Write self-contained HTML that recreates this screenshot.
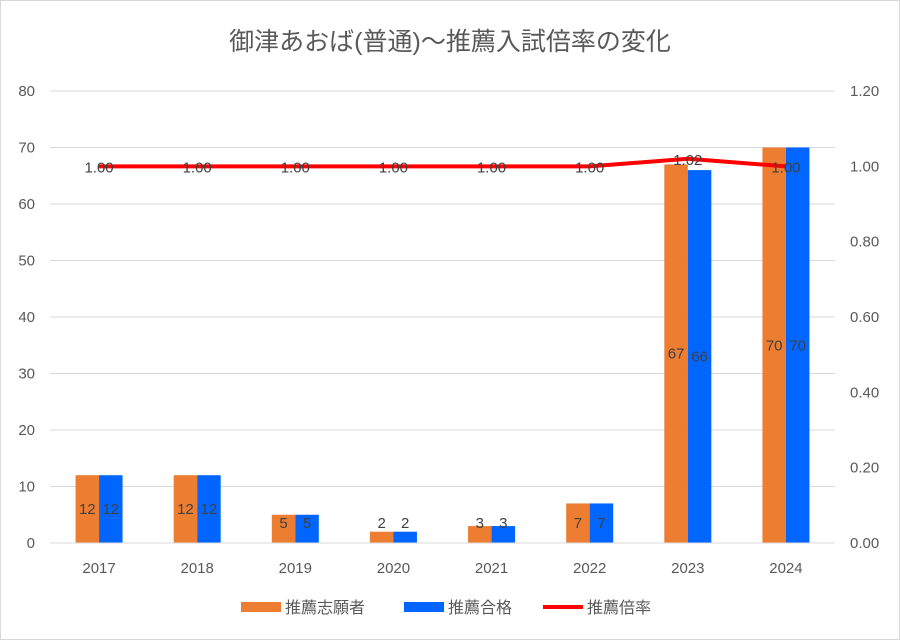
<!DOCTYPE html>
<html><head><meta charset="utf-8"><style>
body{margin:0;background:#fff}
svg{display:block;font-family:"Liberation Sans","Noto Sans CJK JP",sans-serif}
</style></head><body>
<svg id="c" width="900" height="640">
<rect x="0.5" y="0.5" width="899" height="639" fill="#fff" stroke="#d9d9d9"/>
<text x="450" y="50" text-anchor="middle" font-size="25" fill="#595959">御津あおば(普通)～推薦入試倍率の変化</text>
<g id="g"></g>
</svg>
<script>
const categories=["2017","2018","2019","2020","2021","2022","2023","2024"];
const applicants=[12,12,5,2,3,7,67,70];
const passed=[12,12,5,2,3,7,66,70];
const rates=[1.00,1.00,1.00,1.00,1.00,1.00,1.02,1.00];
const leftTicks=[0,10,20,30,40,50,60,70,80];
const rightTicks=["0.00","0.20","0.40","0.60","0.80","1.00","1.20"];
const NS="http://www.w3.org/2000/svg";
const g=document.getElementById('g');
const x0=50,x1=835,y0=543,y1=91;
const band=(x1-x0)/categories.length;
const yL=v=>y0-v/80*(y0-y1);
const yR=v=>y0-v/1.2*(y0-y1);
const cx=i=>x0+band*(i+0.5);
function mk(t,a,txt){const e=document.createElementNS(NS,t);for(const k in a)e.setAttribute(k,a[k]);if(txt!==undefined)e.textContent=txt;g.appendChild(e);return e;}
leftTicks.forEach(v=>{
 const l=mk('line',{x1:x0,x2:x1,y1:yL(v),y2:yL(v),stroke:'#d9d9d9'});
 
 
 const t=mk('text',{x:35,y:yL(v)+5,'text-anchor':'end','font-size':15,fill:'#595959'},v);
 
 
});
rightTicks.forEach(v=>{
 const t=mk('text',{x:850,y:yR(+v)+5,'font-size':15,fill:'#595959'},v);
 
 
});
const bw=23.5;
categories.forEach((c,i)=>{
 const a=mk('rect',{x:cx(i)-bw,y:yL(applicants[i]),width:bw,height:y0-yL(applicants[i]),fill:'#ed7d31'});
 
 
 const p=mk('rect',{x:cx(i),y:yL(passed[i]),width:bw,height:y0-yL(passed[i]),fill:'#0066ff'});
 
 
 const la=mk('text',{x:cx(i)-bw/2,y:Math.min(yL(applicants[i]/2),y0-20)+5,'text-anchor':'middle','font-size':15,fill:'#404040'},applicants[i]);
 
 
 const lp=mk('text',{x:cx(i)+bw/2,y:Math.min(yL(passed[i]/2),y0-20)+5,'text-anchor':'middle','font-size':15,fill:'#404040'},passed[i]);
 
 
 const xt=mk('text',{x:cx(i),y:573,'text-anchor':'middle','font-size':15,fill:'#595959'},c);
 
 
});
const ax=mk('line',{x1:x0,x2:x1,y1:y0,y2:y0,stroke:'#d9d9d9'});


const pl=mk('polyline',{points:rates.map((r,i)=>cx(i)+','+yR(r)).join(' '),fill:'none',stroke:'#ff0000','stroke-width':4,'stroke-linejoin':'round'});


rates.forEach((r,i)=>{
 const t=mk('text',{x:cx(i),y:yR(r)+6,'text-anchor':'middle','font-size':15,fill:'#404040'},r.toFixed(2));
 
 
});
const leg=[["#ed7d31","推薦志願者",241,'rect'],["#0066ff","推薦合格",404,'rect'],["#ff0000","推薦倍率",543,'line']];
leg.forEach(([col,txt,x,k])=>{
 const s=k==='rect'?mk('rect',{x:x,y:602,width:40,height:10,fill:col}):mk('line',{x1:x,x2:x+40,y1:607,y2:607,stroke:col,'stroke-width':4});
 
 
 const t=mk('text',{x:x+44,y:613,'font-size':16,fill:'#595959'},txt);
 
 
});
</script>
</body></html>
